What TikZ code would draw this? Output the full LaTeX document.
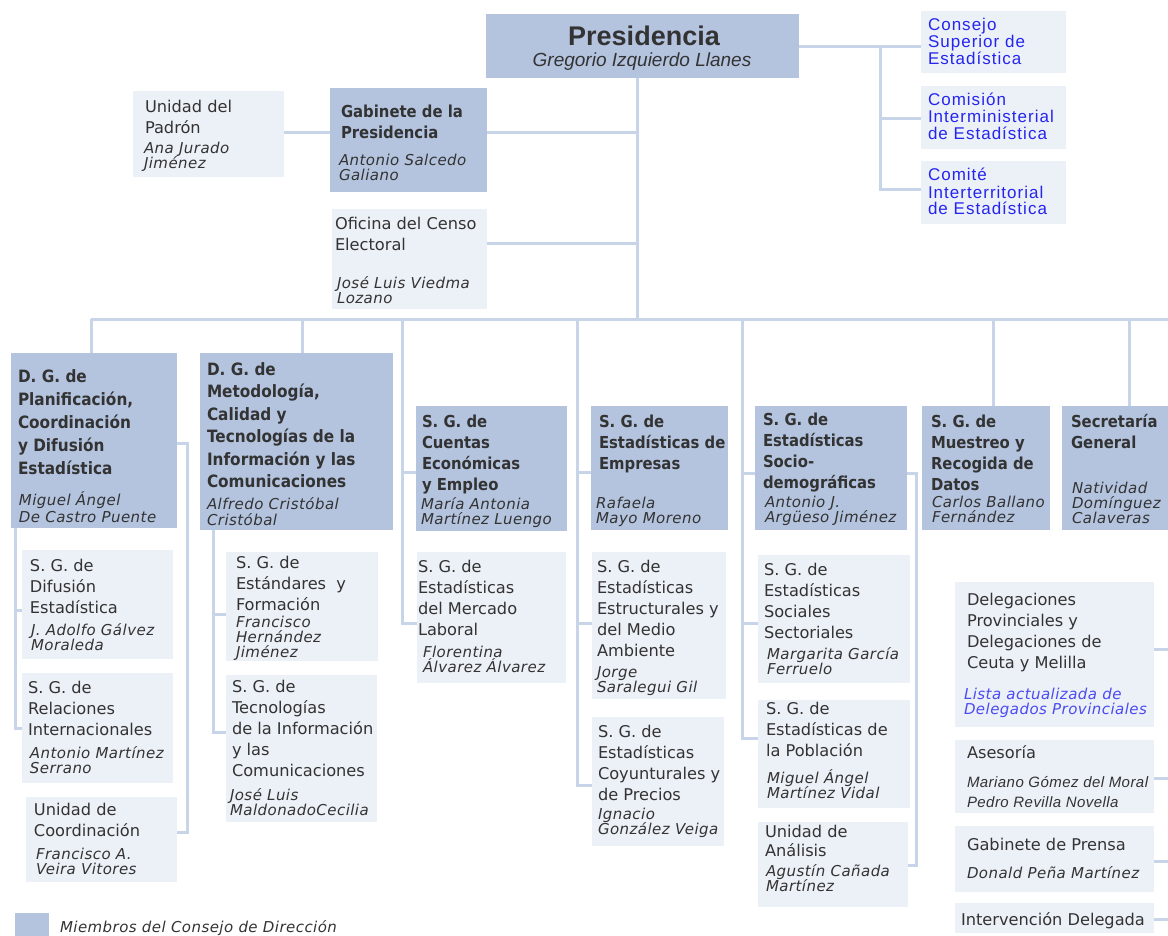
\documentclass[tikz,border=0pt]{standalone}
\usepackage{fontspec}
\setmainfont{DejaVu Sans}
\newfontfamily\bfam{DejaVu Sans}[FakeStretch=0.9]
\newfontfamily\nfam{DejaVu Sans}[LetterSpace=3]
\newfontfamily\afam{Liberation Sans}
\newfontfamily\cfam{Liberation Sans}[LetterSpace=6]
\newfontfamily\lfam{Liberation Sans}[LetterSpace=3]
\lineskiplimit=-50pt
\definecolor{dkfill}{HTML}{B4C4DF}
\definecolor{ltfill}{HTML}{ECF0F7}
\definecolor{lnc}{HTML}{C8D4E8}
\definecolor{txt}{HTML}{333333}
\definecolor{blu}{HTML}{2525EE}
\definecolor{blu2}{HTML}{4B4BF0}
\newcommand\fl{\rule{0pt}{15pt}}
\newcommand\bx[6]{\node[#1, minimum width=#5-#3, minimum height=#6-#4] (#2) at (#3,#4) {};}
\newcommand\tx[5][]{\node[tx,#1] (#2) at (#3,#4-15) {\fl#5};}
\tikzset{
  boxbase/.style={anchor=north west, inner sep=0pt, outer sep=0pt},
  dk/.style={boxbase, fill=dkfill},
  lt/.style={boxbase, fill=ltfill},
  tx/.style={anchor=north west, inner sep=0pt, outer sep=0pt, align=left, text=txt, font=\fontsize{16.2}{21}\selectfont},
  bld/.style={font=\bfam\bfseries\fontsize{16.5}{21}\selectfont},
  bldg/.style={font=\bfam\bfseries\fontsize{17}{23}\selectfont},
  nm/.style={font=\nfam\itshape\fontsize{15}{15}\selectfont},
  blue/.style={text=blu, font=\cfam\fontsize{17}{17}\selectfont},
  conn/.style={draw=lnc, line width=3pt}
}
\begin{document}
\begin{tikzpicture}[x=1pt,y=-1pt]
\useasboundingbox (0,0) rectangle (1168,936);
% ---------- boxes ----------
\bx{dk}{pres}{486}{14}{799}{78}
\bx{lt}{consejo}{921}{11}{1066}{73}
\bx{lt}{comision}{921}{86}{1066}{149}
\bx{lt}{comite}{921}{161}{1066}{224}
\bx{lt}{padron}{133}{91}{284}{177}
\bx{dk}{gab}{330}{88}{487}{192}
\bx{lt}{ofi}{332}{209}{487}{309}
\bx{dk}{dgplan}{11}{353}{177}{528}
\bx{dk}{dgmet}{200}{353}{393}{530}
\bx{dk}{sgcuen}{416}{406}{567}{531}
\bx{dk}{sgemp}{591}{406}{728}{530}
\bx{dk}{sgsocio}{755}{406}{907}{530}
\bx{dk}{sgmue}{922}{406}{1050}{530}
\bx{dk}{secgen}{1062}{406}{1168}{530}
\bx{lt}{sgdif}{22}{550}{173}{659}
\bx{lt}{sgrel}{22}{673}{173}{783}
\bx{lt}{ucoord}{26}{797}{177}{882}
\bx{lt}{sgstd}{226}{552}{378}{661}
\bx{lt}{sgtec}{226}{675}{377}{822}
\bx{lt}{sgmerc}{417}{552}{566}{683}
\bx{lt}{sgest}{592}{552}{726}{699}
\bx{lt}{sgcoy}{592}{717}{724}{846}
\bx{lt}{sgsoc}{758}{555}{910}{683}
\bx{lt}{sgpob}{758}{700}{910}{808}
\bx{lt}{uana}{758}{822}{908}{907}
\bx{lt}{deleg}{955}{582}{1154}{727}
\bx{lt}{ases}{955}{740}{1154}{813}
\bx{lt}{prensa}{955}{826}{1154}{892}
\bx{lt}{interv}{955}{903}{1154}{933}
\bx{dk}{legend}{15}{913}{49}{936}
% ---------- connectors ----------
\coordinate (pv) at (637,319);
\coordinate (gJ) at (637,133);
\coordinate (oJ) at (637,244);
\draw[conn] (pv |- pres.south) -- (pv);
\draw[conn] (gab.east |- gJ) -- (gJ);
\draw[conn] (padron.east |- gJ) -- (gab.west |- gJ);
\draw[conn] (ofi.east |- oJ) -- (oJ);
\coordinate (cv) at (880,47);
\coordinate (cv1) at (880,119);
\coordinate (cv2) at (880,190);
\draw[conn] (pres.east |- cv) -- (consejo.west |- cv);
\draw[conn] (cv) -- (cv2) -- (comite.west |- cv2);
\draw[conn] (cv1) -- (comision.west |- cv1);
\coordinate (busL) at (91,319);
\coordinate (busR) at (1168,319);
\draw[conn] (busL) -- (busR);
\draw[conn] (busL) -- (busL |- dgplan.north);
\coordinate (b2) at (302,319);
\draw[conn] (b2) -- (b2 |- dgmet.north);
\coordinate (b3) at (402,319);
\coordinate (b3a) at (402,472);
\coordinate (b3b) at (402,623);
\draw[conn] (b3) -- (b3b) -- (sgmerc.west |- b3b);
\draw[conn] (b3a) -- (sgcuen.west |- b3a);
\coordinate (b4) at (577,319);
\coordinate (b4a) at (577,472);
\coordinate (b4b) at (577,623);
\coordinate (b4c) at (577,785);
\draw[conn] (b4) -- (b4c) -- (sgcoy.west |- b4c);
\draw[conn] (b4a) -- (sgemp.west |- b4a);
\draw[conn] (b4b) -- (sgest.west |- b4b);
\coordinate (b5) at (742,319);
\coordinate (b5a) at (742,473);
\coordinate (b5b) at (742,623);
\coordinate (b5c) at (742,738);
\draw[conn] (b5) -- (b5c) -- (sgpob.west |- b5c);
\draw[conn] (b5a) -- (sgsocio.west |- b5a);
\draw[conn] (b5b) -- (sgsoc.west |- b5b);
\coordinate (b6) at (993,319);
\draw[conn] (b6) -- (b6 |- sgmue.north);
\coordinate (b7) at (1129,319);
\draw[conn] (b7) -- (b7 |- secgen.north);
\coordinate (pr1) at (187,443);
\coordinate (pr2) at (187,832);
\draw[conn] (dgplan.east |- pr1) -- (pr1) -- (pr2) -- (ucoord.east |- pr2);
\coordinate (pl1) at (15,610);
\coordinate (pl2) at (15,728);
\draw[conn] (pl2 |- dgplan.south) -- (pl2) -- (sgrel.west |- pl2);
\draw[conn] (pl1) -- (sgdif.west |- pl1);
\coordinate (ml1) at (213,614);
\coordinate (ml2) at (213,732);
\draw[conn] (ml2 |- dgmet.south) -- (ml2) -- (sgtec.west |- ml2);
\draw[conn] (ml1) -- (sgstd.west |- ml1);
\coordinate (sr1) at (916,473);
\coordinate (sr2) at (916,865);
\draw[conn] (sgsocio.east |- sr1) -- (sr1) -- (sr2) -- (uana.east |- sr2);
\coordinate (r1) at (1168,649);
\coordinate (r2) at (1168,778);
\coordinate (r3) at (1168,861);
\coordinate (r4) at (1168,919);
\draw[conn] (deleg.east |- r1) -- (r1);
\draw[conn] (ases.east |- r2) -- (r2);
\draw[conn] (prensa.east |- r3) -- (r3);
\draw[conn] (interv.east |- r4) -- (r4);
% ---------- texts ----------
\node[anchor=base, inner sep=0pt, text=txt, font=\afam\bfseries\fontsize{27}{27}\selectfont] (pres-t) at (644,46) {Presidencia};
\node[anchor=base, inner sep=0pt, text=txt, font=\afam\itshape\fontsize{19}{19}\selectfont] (pres-n) at (642,67) {Gregorio Izquierdo Llanes};
\tx[blue]{consejo-t}{928}{31}{Consejo\\Superior de\\Estadística}
\tx[blue]{comision-t}{928}{106}{Comisión\\Interministerial\\de Estadística}
\tx[blue]{comite-t}{928}{181}{Comité\\Interterritorial\\de Estadística}
\tx{padron-t}{145}{113}{Unidad del\\Padrón}
\tx[nm]{padron-n}{144}{154}{Ana Jurado\\Jiménez}
\tx[bld]{gab-t}{341}{118}{Gabinete de la\\Presidencia}
\tx[nm]{gab-n}{339}{166}{Antonio Salcedo\\Galiano}
\tx{ofi-t}{335}{230}{Oficina del Censo\\Electoral}
\tx[nm]{ofi-n}{337}{288}{José Luis Viedma\\Lozano}
\tx[bldg]{dgplan-t}{18}{382}{D. G. de\\Planificación,\\Coordinación\\y Difusión\\Estadística}
\tx[nm,font=\nfam\itshape\fontsize{15}{17}\selectfont]{dgplan-n}{19}{505}{Miguel Ángel\\De Castro Puente}
\tx[bldg,font=\bfam\bfseries\fontsize{17}{22.5}\selectfont]{dgmet-t}{207}{375}{D. G. de\\Metodología,\\Calidad y\\Tecnologías de la\\Información y las\\Comunicaciones}
\tx[nm,font=\nfam\itshape\fontsize{15}{16}\selectfont]{dgmet-n}{207}{509}{Alfredo Cristóbal\\Cristóbal}
\tx[bld]{sgcuen-t}{422}{427}{S. G. de\\Cuentas\\Económicas\\y Empleo}
\tx[nm]{sgcuen-n}{421}{509}{María Antonia\\Martínez Luengo}
\tx[bld]{sgemp-t}{599}{427}{S. G. de\\Estadísticas de\\Empresas}
\tx[nm]{sgemp-n}{596}{508}{Rafaela\\Mayo Moreno}
\tx[bld]{sgsocio-t}{763}{425}{S. G. de\\Estadísticas\\Socio-\\demográficas}
\tx[nm]{sgsocio-n}{765}{507}{Antonio J.\\Argüeso Jiménez}
\tx[bld]{sgmue-t}{931}{427}{S. G. de\\Muestreo y\\Recogida de\\Datos}
\tx[nm]{sgmue-n}{932}{507}{Carlos Ballano\\Fernández}
\tx[bld]{secgen-t}{1071}{427}{Secretaría\\General}
\tx[nm]{secgen-n}{1072}{493}{Natividad\\Domínguez\\Calaveras}
\tx{sgdif-t}{30}{571}{S. G. de\\Difusión\\Estadística}
\tx[nm]{sgdif-n}{31}{635}{J. Adolfo Gálvez\\Moraleda}
\tx{sgrel-t}{28}{693}{S. G. de\\Relaciones\\Internacionales}
\tx[nm]{sgrel-n}{30}{758}{Antonio Martínez\\Serrano}
\tx{ucoord-t}{34}{815}{Unidad de\\Coordinación}
\tx[nm]{ucoord-n}{36}{859}{Francisco A.\\Veira Vitores}
\tx{sgstd-t}{236}{568}{S. G. de\\Estándares\ \ y\\Formación}
\tx[nm]{sgstd-n}{236}{627}{Francisco\\Hernández\\Jiménez}
\tx{sgtec-t}{232}{692}{S. G. de\\Tecnologías\\de la Información\\y las\\Comunicaciones}
\tx[nm]{sgtec-n}{230}{800}{José Luis\\MaldonadoCecilia}
\tx{sgmerc-t}{418}{572}{S. G. de\\Estadísticas\\del Mercado\\Laboral}
\tx[nm]{sgmerc-n}{423}{657}{Florentina\\Álvarez Álvarez}
\tx{sgest-t}{597}{572}{S. G. de\\Estadísticas\\Estructurales y\\del Medio\\Ambiente}
\tx[nm]{sgest-n}{597}{677}{Jorge\\Saralegui Gil}
\tx{sgcoy-t}{598}{737}{S. G. de\\Estadísticas\\Coyunturales y\\de Precios}
\tx[nm]{sgcoy-n}{598}{819}{Ignacio\\González Veiga}
\tx{sgsoc-t}{764}{575}{S. G. de\\Estadísticas\\Sociales\\Sectoriales}
\tx[nm]{sgsoc-n}{767}{659}{Margarita García\\Ferruelo}
\tx{sgpob-t}{766}{714}{S. G. de\\Estadísticas de\\la Población}
\tx[nm]{sgpob-n}{767}{783}{Miguel Ángel\\Martínez Vidal}
\tx[font=\fontsize{16.2}{19}\selectfont]{uana-t}{765}{837}{Unidad de\\Análisis}
\tx[nm]{uana-n}{766}{876}{Agustín Cañada\\Martínez}
\tx{deleg-t}{967}{605}{Delegaciones\\Provinciales y\\Delegaciones de\\Ceuta y Melilla}
\tx[nm,text=blu2]{deleg-n}{964}{699}{Lista actualizada de\\Delegados Provinciales}
\tx{ases-t}{967}{758}{Asesoría}
\tx[font=\lfam\itshape\fontsize{15}{20}\selectfont]{ases-n}{967}{787}{Mariano Gómez del Moral\\Pedro Revilla Novella}
\tx{prensa-t}{967}{850}{Gabinete de Prensa}
\tx[nm]{prensa-n}{967}{878}{Donald Peña Martínez}
\tx{interv-t}{961}{925}{Intervención Delegada}
\tx[nm]{legend-t}{60}{932}{Miembros del Consejo de Dirección}
\end{tikzpicture}
\end{document}
